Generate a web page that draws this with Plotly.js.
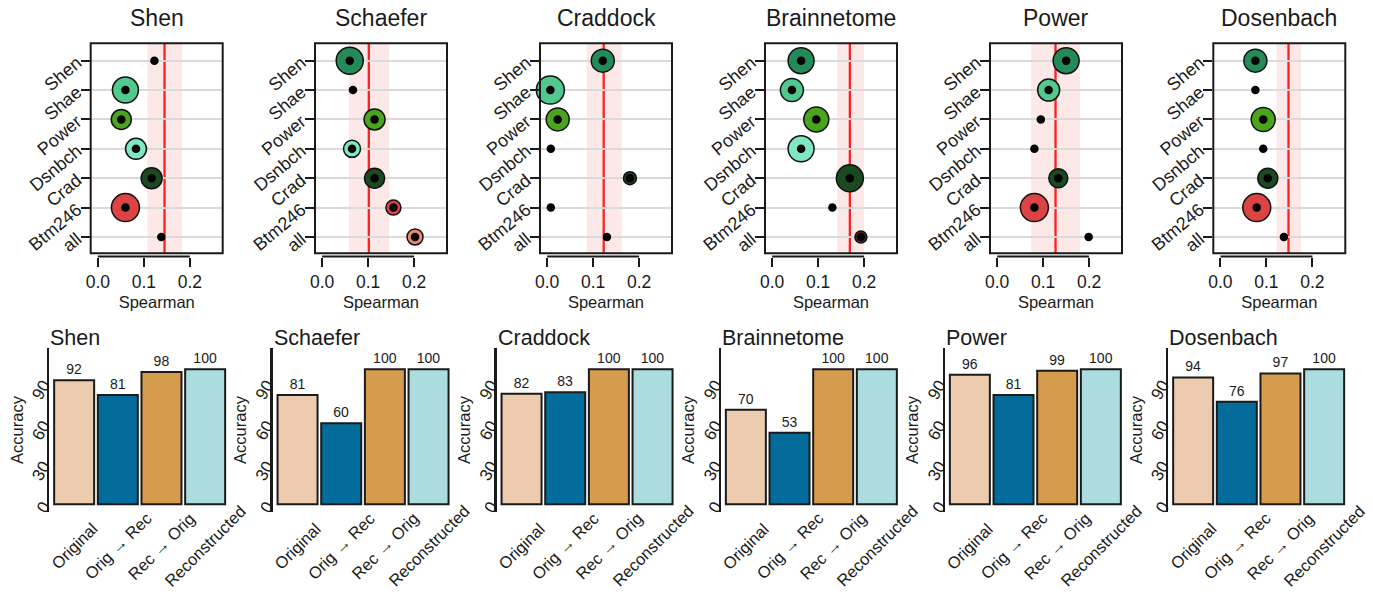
<!DOCTYPE html>
<html>
<head>
<meta charset="utf-8">
<script src="https://cdn.plot.ly/plotly-3.0.1.min.js"></script>
<style>html,body{margin:0;padding:0;background:#fff;}#chart{width:1373px;height:595px;}</style>
</head>
<body>
<div id="chart"></div>
<script>
// ---------------- DATA ----------------
const atlases = ["Shen", "Schaefer", "Craddock", "Brainnetome", "Power", "Dosenbach"];
const rowLabels = ["Shen", "Shae", "Power", "Dsnbch", "Crad", "Btm246", "all"];

// Spearman correlation per row, one array per atlas panel
const rhoShen        = [0.123, 0.060, 0.051, 0.083, 0.117, 0.060, 0.138];
const rhoSchaefer    = [0.060, 0.067, 0.114, 0.065, 0.114, 0.155, 0.202];
const rhoCraddock    = [0.121, 0.007, 0.023, 0.008, 0.180, 0.008, 0.130];
const rhoBrainnetome = [0.063, 0.043, 0.096, 0.063, 0.169, 0.131, 0.193];
const rhoPower       = [0.150, 0.112, 0.095, 0.081, 0.133, 0.081, 0.199];
const rhoDosenbach   = [0.076, 0.076, 0.093, 0.093, 0.103, 0.079, 0.138];

// circle magnitude per row (0 = no circle drawn)
const magShen        = [0, 26, 20, 21, 21, 28, 0];
const magSchaefer    = [27, 0, 21, 17, 20, 15, 16];
const magCraddock    = [23, 28, 23, 0, 13, 0, 0];
const magBrainnetome = [26, 23, 25, 26, 27, 0, 12];
const magPower       = [26, 22, 0, 0, 19, 28, 0];
const magDosenbach   = [23, 0, 24, 0, 20, 28, 0];

// reference value (red line) and its interval (pink band)
const refValue = [0.145, 0.1015, 0.123, 0.169, 0.127, 0.148];
const refLow   = [0.108, 0.058, 0.086, 0.1415, 0.074, 0.122];
const refHigh  = [0.183, 0.146, 0.162, 0.200, 0.180, 0.175];

// bar chart
const barCats = ["Original", "Orig \u2192 Rec", "Rec \u2192 Orig", "Reconstructed"];
const accShen        = [92, 81, 98, 100];
const accSchaefer    = [81, 60, 100, 100];
const accCraddock    = [82, 83, 100, 100];
const accBrainnetome = [70, 53, 100, 100];
const accPower       = [96, 81, 99, 100];
const accDosenbach   = [94, 76, 97, 100];

const xTickVals = [0, 0.1, 0.2];
const xTickText = ["0.0", "0.1", "0.2"];
const yTickVals = [0, 30, 60, 90];

// ---------------- STYLE ----------------
const rowColors = {Shen: "#248a58", Shae: "#50c88e", Power: "#4aa51c", Dsnbch: "#7fe8c2",
                   Crad: "#1b4a20", Btm246: "#dc4343"};
const allColors = ["#000000", "#ee8672", "#000000", "#6a2622", "#000000", "#000000"];
const barColors = ["#ECCBAE", "#046C9A", "#D69C4E", "#ABDDDE"];

const rhoAll = [rhoShen, rhoSchaefer, rhoCraddock, rhoBrainnetome, rhoPower, rhoDosenbach];
const magAll = [magShen, magSchaefer, magCraddock, magBrainnetome, magPower, magDosenbach];
const accAll = [accShen, accSchaefer, accCraddock, accBrainnetome, accPower, accDosenbach];

const W = 1373, H = 595;
const px = p => p / W;
const py = p => 1 - p / H;
const FONT = "Liberation Sans, Arial, Helvetica, sans-serif";
const INK = "#1a1a1a";

const topLeft = [90.7, 315, 540, 765, 990, 1213.3];
const boxW = 132, boxTop = 43.3, boxBot = 253.3;
const botLeft = [49.3, 272.7, 496.7, 721, 945, 1168.3];
const botW = 180, botTop = 348.3, botBot = 511.7;

const data = [];
const shapes = [];
const annotations = [];
const layout = {
  width: W, height: H,
  margin: {l: 0, r: 0, t: 0, b: 0},
  paper_bgcolor: "#fff", plot_bgcolor: "rgba(0,0,0,0)",
  showlegend: false, hovermode: false,
  bargap: 0.084,
  font: {family: FONT, color: INK},
};

const axName = i => (i === 1 ? "" : String(i));

atlases.forEach((atlas, k) => {
  // ---------- top dot panel ----------
  const ti = k + 1;
  const xa = "x" + axName(ti), ya = "y" + axName(ti);
  const rho = rhoAll[k], mag = magAll[k];
  const l = topLeft[k];

  layout["xaxis" + axName(ti)] = {
    domain: [px(l), px(l + boxW)],
    range: [-0.0155, 0.2715],
    anchor: "free", position: py(256.5),
    showline: false, showgrid: false, zeroline: false,
    ticks: "outside", ticklen: 9, tickwidth: 2, tickcolor: INK,
    tickmode: "array", tickvals: xTickVals, ticktext: xTickText,
    tickfont: {size: 17.5, family: FONT, color: INK},
    title: {text: "Spearman", font: {size: 16.5, family: FONT, color: INK}, standoff: 5},
    fixedrange: true,
  };
  layout["yaxis" + axName(ti)] = {
    domain: [py(boxBot), py(boxTop)],
    type: "category", categoryorder: "array", categoryarray: rowLabels.slice().reverse(),
    range: [-0.555, 6.592],
    anchor: xa,
    showline: false, zeroline: false,
    showgrid: true, gridcolor: "#dadada", gridwidth: 2,
    ticks: "outside", ticklen: 9, tickwidth: 2, tickcolor: INK,
    tickangle: -40,
    tickfont: {size: 18, family: FONT, color: INK},
    fixedrange: true,
  };

  // band, reference line, frame, axis line
  shapes.push({type: "rect", xref: xa, yref: ya + " domain", x0: refLow[k], x1: refHigh[k], y0: 0, y1: 1,
               fillcolor: "#fde8e8", line: {width: 0}, layer: "below"});
  shapes.push({type: "line", xref: xa, yref: ya + " domain", x0: refValue[k], x1: refValue[k], y0: 0, y1: 1,
               line: {color: "#ff1f1f", width: 2.3}, layer: "below"});
  shapes.push({type: "rect", xref: xa + " domain", yref: ya + " domain", x0: 0, x1: 1, y0: 0, y1: 1,
               line: {color: INK, width: 2}, layer: "above"});
  shapes.push({type: "line", xref: xa, yref: "paper", x0: xTickVals[0], x1: xTickVals[xTickVals.length - 1],
               y0: py(256.5), y1: py(256.5), line: {color: INK, width: 2}, layer: "above"});

  // outer circles
  const cx = [], cy = [], cs = [], cc = [];
  rowLabels.forEach((r, j) => {
    if (mag[j] > 0) {
      cx.push(rho[j]); cy.push(r); cs.push(mag[j]);
      cc.push(r === "all" ? allColors[k] : rowColors[r]);
    }
  });
  data.push({type: "scatter", mode: "markers", x: cx, y: cy, xaxis: xa, yaxis: ya,
             marker: {size: cs, color: cc, opacity: 1, line: {color: "#111", width: 1.5}}, cliponaxis: false});
  // inner dots
  data.push({type: "scatter", mode: "markers", x: rho, y: rowLabels, xaxis: xa, yaxis: ya,
             marker: {size: 8.5, color: "#000", opacity: 1}, cliponaxis: false});

  annotations.push({text: atlas, xref: "paper", yref: "paper", x: px(l + boxW / 2), y: py(18),
                    xanchor: "center", yanchor: "middle", showarrow: false,
                    font: {size: 23, family: FONT, color: INK}});

  // ---------- bottom bar panel ----------
  const bi = k + 7;
  const bxa = "x" + axName(bi), bya = "y" + axName(bi);
  const bl = botLeft[k];
  layout["xaxis" + axName(bi)] = {
    domain: [px(bl), px(bl + botW)],
    type: "category", range: [-0.569, 3.553], anchor: bya,
    showticklabels: false, ticks: "", showline: false, showgrid: false, zeroline: false,
    fixedrange: true,
  };
  layout["yaxis" + axName(bi)] = {
    domain: [py(botBot), py(botTop)],
    range: [-5.5, 115.6], anchor: bxa,
    showline: true, linewidth: 2.5, linecolor: INK,
    ticks: "", tickmode: "array", tickvals: yTickVals,
    tickangle: -60,
    tickfont: {size: 17, family: FONT, color: INK},
    showgrid: false, zeroline: false,
    title: {text: "Accuracy", font: {size: 16.5, family: FONT, color: INK}, standoff: 1},
    fixedrange: true,
  };
  data.push({type: "bar", x: barCats, y: accAll[k], xaxis: bxa, yaxis: bya,
             marker: {color: barColors, line: {color: INK, width: 2}},
             text: accAll[k].map(String), textposition: "outside",
             textfont: {size: 14, family: FONT, color: INK}, cliponaxis: false});

  annotations.push({text: atlas, xref: "paper", yref: "paper", x: px(bl - 1), y: py(338),
                    xanchor: "left", yanchor: "middle", showarrow: false,
                    font: {size: 21.5, family: FONT, color: INK}});
  barCats.forEach(c => {
    annotations.push({text: c, xref: bxa, yref: "paper", x: c, y: py(546),
                      xanchor: "center", yanchor: "middle", textangle: -45, showarrow: false,
                      font: {size: 16.5, family: FONT, color: INK}});
  });
});

layout.shapes = shapes;
layout.annotations = annotations;

Plotly.newPlot("chart", data, layout, {displayModeBar: false, staticPlot: true});
</script>
</body>
</html>
